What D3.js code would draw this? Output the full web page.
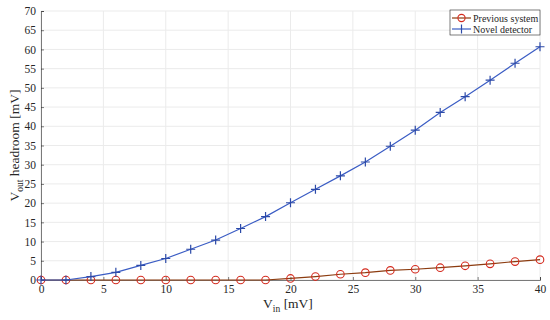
<!DOCTYPE html>
<html>
<head>
<meta charset="utf-8">
<script src="https://cdn.jsdelivr.net/npm/d3@7"></script>
<style>
  body { margin: 0; background: #fff; }
  text { font-family: "Liberation Serif", "Times New Roman", serif; fill: #262626; }
</style>
</head>
<body>
<div id="chart"></div>
<script>
const vin = [0, 2, 4, 6, 8, 10, 12, 14, 16, 18, 20, 22, 24, 26, 28, 30, 32, 34, 36, 38, 40];
const previousSystem = [0, 0, 0, 0, 0, 0, 0, 0, 0, 0, 0.4, 0.9, 1.5, 1.9, 2.5, 2.8, 3.2, 3.7, 4.2, 4.8, 5.3];
const novelDetector = [0, 0, 0.9, 2.0, 3.8, 5.6, 8.0, 10.4, 13.4, 16.5, 20.1, 23.6, 27.1, 30.7, 34.8, 39.0, 43.6, 47.7, 52.0, 56.4, 60.7];
const xTicks = [0, 5, 10, 15, 20, 25, 30, 35, 40];
const yTicks = [0, 5, 10, 15, 20, 25, 30, 35, 40, 45, 50, 55, 60, 65, 70];

const width = 550, height = 320;
const margin = { top: 11, right: 10, bottom: 40, left: 41 };

const svg = d3.select("#chart").append("svg")
    .attr("width", width)
    .attr("height", height);

const x = d3.scaleLinear().domain([0, 40]).range([margin.left, width - margin.right]);
const y = d3.scaleLinear().domain([0, 70]).range([height - margin.bottom, margin.top]);

// grid
svg.append("g").selectAll("line").data(xTicks).join("line")
    .attr("x1", d => x(d)).attr("x2", d => x(d))
    .attr("y1", y(0)).attr("y2", y(70))
    .attr("stroke", "#ebebeb").attr("stroke-width", 1);
svg.append("g").selectAll("line").data(yTicks).join("line")
    .attr("x1", x(0)).attr("x2", x(40))
    .attr("y1", d => y(d)).attr("y2", d => y(d))
    .attr("stroke", "#ebebeb").attr("stroke-width", 1);

// axes
const xAxis = svg.append("g")
    .attr("transform", `translate(0,${y(0)})`)
    .call(d3.axisBottom(x).tickValues(xTicks).tickSize(-3).tickPadding(5).tickFormat(d3.format("d")));
const yAxis = svg.append("g")
    .attr("transform", `translate(${x(0)},0)`)
    .call(d3.axisLeft(y).tickValues(yTicks).tickSize(-3).tickPadding(5).tickFormat(d3.format("d")));

[xAxis, yAxis].forEach(a => {
    a.select(".domain").attr("stroke", "#262626").attr("stroke-width", 0.6);
    a.selectAll(".tick line").attr("stroke", "#262626").attr("stroke-width", 0.6);
    a.selectAll(".tick text")
        .style("font-family", "'Liberation Serif', serif")
        .style("font-size", "11.5px").attr("fill", "#262626");
});

// lines
const line = d3.line().x((d, i) => x(vin[i])).y(d => y(d));

svg.append("path").datum(previousSystem)
    .attr("d", line).attr("fill", "none")
    .attr("stroke", "#8c3c10").attr("stroke-width", 1.2);

svg.append("g").selectAll("circle").data(previousSystem).join("circle")
    .attr("cx", (d, i) => x(vin[i])).attr("cy", d => y(d))
    .attr("r", 3.8).attr("fill", "none")
    .attr("stroke", "#d42a1e").attr("stroke-width", 1.1);

svg.append("path").datum(novelDetector)
    .attr("d", line).attr("fill", "none")
    .attr("stroke", "#3a5cc4").attr("stroke-width", 1.2);

svg.append("g").selectAll("path").data(novelDetector).join("path")
    .attr("d", (d, i) => {
        const cx = x(vin[i]), cy = y(d), s = 4.5;
        return `M${cx - s},${cy}H${cx + s}M${cx},${cy - s}V${cy + s}`;
    })
    .attr("stroke", "#2c4aa8").attr("stroke-width", 1.2);

// axis labels
const xl = svg.append("text")
    .attr("x", 288).attr("y", 308)
    .attr("text-anchor", "middle")
    .style("font-size", "13.5px");
xl.append("tspan").text("V");
xl.append("tspan").attr("dy", 4).style("font-size", "9.5px").text("in");
xl.append("tspan").attr("dy", -4).text(" [mV]");

const yl = svg.append("text")
    .attr("transform", `translate(19,${y(35)}) rotate(-90)`)
    .attr("text-anchor", "middle")
    .style("font-size", "13.5px");
yl.append("tspan").text("V");
yl.append("tspan").attr("dy", 4).style("font-size", "9.5px").text("out");
yl.append("tspan").attr("dy", -4).text(" headroom [mV]");

// legend
const lg = svg.append("g").attr("transform", "translate(450,10)");
lg.append("rect").attr("width", 90).attr("height", 25)
    .attr("fill", "#fff").attr("stroke", "#262626").attr("stroke-width", 0.6);
const lx1 = 2, lx2 = 21;
lg.append("line").attr("x1", lx1).attr("x2", lx2).attr("y1", 8).attr("y2", 8)
    .attr("stroke", "#8c3c10").attr("stroke-width", 1.2);
lg.append("circle").attr("cx", (lx1 + lx2) / 2).attr("cy", 8).attr("r", 3.6)
    .attr("fill", "none").attr("stroke", "#d42a1e").attr("stroke-width", 1.1);
lg.append("text").attr("x", 23).attr("y", 11.5).style("font-size", "10px").text("Previous system");
lg.append("line").attr("x1", lx1).attr("x2", lx2).attr("y1", 19).attr("y2", 19)
    .attr("stroke", "#3a5cc4").attr("stroke-width", 1.2);
lg.append("path").attr("d", `M${(lx1 + lx2) / 2},14.5V23.5`)
    .attr("stroke", "#2c4aa8").attr("stroke-width", 1.2);
lg.append("text").attr("x", 23).attr("y", 22.5).style("font-size", "10px").text("Novel detector");
</script>
</body>
</html>
